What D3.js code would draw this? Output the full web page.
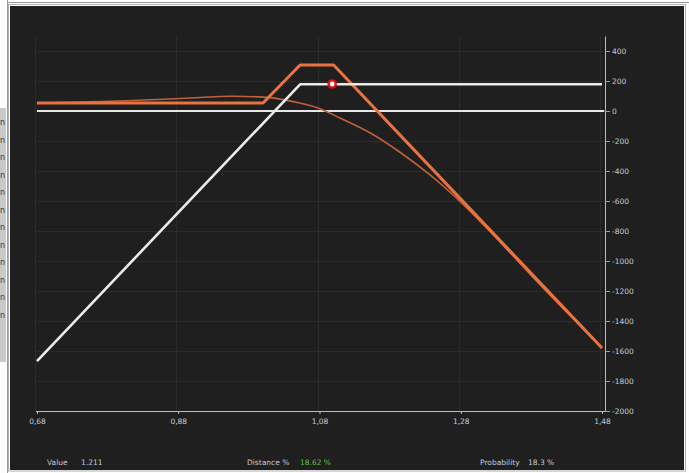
<!DOCTYPE html>
<html><head><meta charset="utf-8">
<script src="https://cdn.jsdelivr.net/npm/d3@7"></script>
<style>html,body{margin:0;padding:0;background:#fff;}svg{display:block;}</style>
</head><body>
<script>
// ---- data ----
const xTicks = [0.68, 0.88, 1.08, 1.28, 1.48];
const yTicks = [400, 200, 0, -200, -400, -600, -800, -1000, -1200, -1400, -1600, -1800, -2000];
const expiryX = [0.68, 1.00, 1.0525, 1.10, 1.48];
const expiryY = [53, 53, 307, 307, -1580];
const currentX = [0.68, 0.77, 0.868, 0.911, 0.953, 1.010, 1.052, 1.078, 1.109, 1.152, 1.194, 1.237, 1.279, 1.322, 1.364, 1.40, 1.44, 1.48];
const currentY = [53, 63, 80, 90, 98, 89, 53, 20, -47, -147, -275, -428, -603, -806, -1016, -1196, -1388, -1580];
const whiteX = [0.68, 1.0525, 1.48];
const whiteY = [-1667, 178, 178];
const zeroX = [0.68, 1.483];
const zeroY = [0, 0];
const markerX = [1.098];
const markerY = [180];
const footLabels = ["Value", "Distance %", "Probability"];
const footValues = ["1.211", "18.62 %", "18.3 %"];

const W = 689, H = 473;
const svg = d3.select("body").append("svg").attr("width", W).attr("height", H);

// window frame
svg.append("rect").attr("x", 0).attr("y", 0).attr("width", W).attr("height", H).attr("fill", "#fdfdfd");
svg.append("rect").attr("x", 0).attr("y", 108).attr("width", 6).attr("height", 254).attr("fill", "#c9c9c9");
for (let i = 0; i < 12; i++) {
  svg.append("text").attr("x", 0).attr("y", 125 + i * 17.5).attr("font-size", 8)
    .attr("font-family", "DejaVu Sans").attr("fill", "#333").text("n");
}
svg.append("line").attr("x1", 7.5).attr("x2", 7.5).attr("y1", 0).attr("y2", 473).attr("stroke", "#9a9a9a");
svg.append("line").attr("x1", 7).attr("x2", 689).attr("y1", 2.5).attr("y2", 2.5).attr("stroke", "#9a9a9a");
svg.append("rect").attr("x", 8.5).attr("y", 4.5).attr("width", 677).attr("height", 466.5)
  .attr("fill", "none").attr("stroke", "#b0b0b0");
svg.append("rect").attr("x", 10).attr("y", 6).attr("width", 674).attr("height", 464).attr("fill", "#1f1f1f");

const x = d3.scaleLinear().domain([0.68, 1.48]).range([37, 602]);
const y = d3.scaleLinear().domain([-2000, 500]).range([411, 36]);

// grid
const g = svg.append("g");
g.selectAll(".gy").data(yTicks).join("line")
  .attr("x1", 37).attr("x2", 605).attr("y1", d => Math.round(y(d)) + 0.5).attr("y2", d => Math.round(y(d)) + 0.5)
  .attr("stroke", "#2b2b2b").attr("stroke-width", 1);
g.selectAll(".gx").data(xTicks).join("line")
  .attr("x1", d => Math.round(x(d)) - 1.5).attr("x2", d => Math.round(x(d)) - 1.5).attr("y1", 36).attr("y2", 411)
  .attr("stroke", "#2b2b2b").attr("stroke-width", 1);

// axes
const fmt = d => d3.format(".2f")(d).replace(".", ",");
const xAxis = svg.append("g").attr("transform", "translate(0,411)")
  .call(d3.axisBottom(x).tickValues(xTicks).tickFormat(fmt).tickSize(3).tickSizeOuter(0));
xAxis.select(".domain").attr("d", "M36,0.5H605").attr("stroke", "#bdbdbd");
xAxis.selectAll(".tick line").attr("stroke", "#bdbdbd");
xAxis.selectAll(".tick text").attr("fill", "#c5cbd8").attr("font-size", 7.5).attr("font-family", "DejaVu Sans").attr("dy", "0.9em");

const yAxis = svg.append("g").attr("transform", "translate(605,0)")
  .call(d3.axisRight(y).tickValues(yTicks).tickFormat(d => String(d)).tickSize(5).tickSizeOuter(0));
yAxis.select(".domain").attr("stroke", "#bdbdbd");
yAxis.selectAll(".tick line").attr("stroke", "#9aa0aa");
yAxis.selectAll(".tick text").attr("fill", "#c5cbd8").attr("font-size", 7.5).attr("font-family", "DejaVu Sans").attr("x", 7);

// lines
const line = d3.line().x(d => x(d[0])).y(d => y(d[1]));
const zip = (a, b) => a.map((v, i) => [v, b[i]]);
svg.append("path").datum(zip(zeroX, zeroY)).attr("d", line).attr("fill", "none")
  .attr("stroke", "#e6e6e6").attr("stroke-width", 2.2);
svg.append("path").datum(zip(currentX, currentY)).attr("d", d3.line().curve(d3.curveCatmullRom).x(d => x(d[0])).y(d => y(d[1])))
  .attr("fill", "none").attr("stroke", "#c0603a").attr("stroke-width", 1.6);
svg.append("path").datum(zip(expiryX, expiryY)).attr("d", line).attr("fill", "none")
  .attr("stroke", "#e8733e").attr("stroke-width", 3).attr("stroke-linejoin", "round");
svg.append("path").datum(zip(whiteX, whiteY)).attr("d", line).attr("fill", "none")
  .attr("stroke", "#ececec").attr("stroke-width", 2.6).attr("stroke-linejoin", "round");

svg.selectAll(".mk").data(zip(markerX, markerY)).join("circle")
  .attr("cx", d => x(d[0])).attr("cy", d => y(d[1])).attr("r", 3.6)
  .attr("fill", "#ffffff").attr("stroke", "#e01010").attr("stroke-width", 2.4);

// footer
const fx = [47, 247, 480], vx = [81, 300, 528];
const footColors = ["#c5cbd8", "#5fbf4f", "#c5cbd8"];
footLabels.forEach((t, i) => {
  svg.append("text").attr("x", fx[i]).attr("y", 465).attr("font-size", 7.5).attr("font-family", "DejaVu Sans")
    .attr("fill", "#c5cbd8").text(t);
  svg.append("text").attr("x", vx[i]).attr("y", 465).attr("font-size", 7.5).attr("font-family", "DejaVu Sans")
    .attr("fill", footColors[i]).text(footValues[i]);
});
</script>
</body></html>
